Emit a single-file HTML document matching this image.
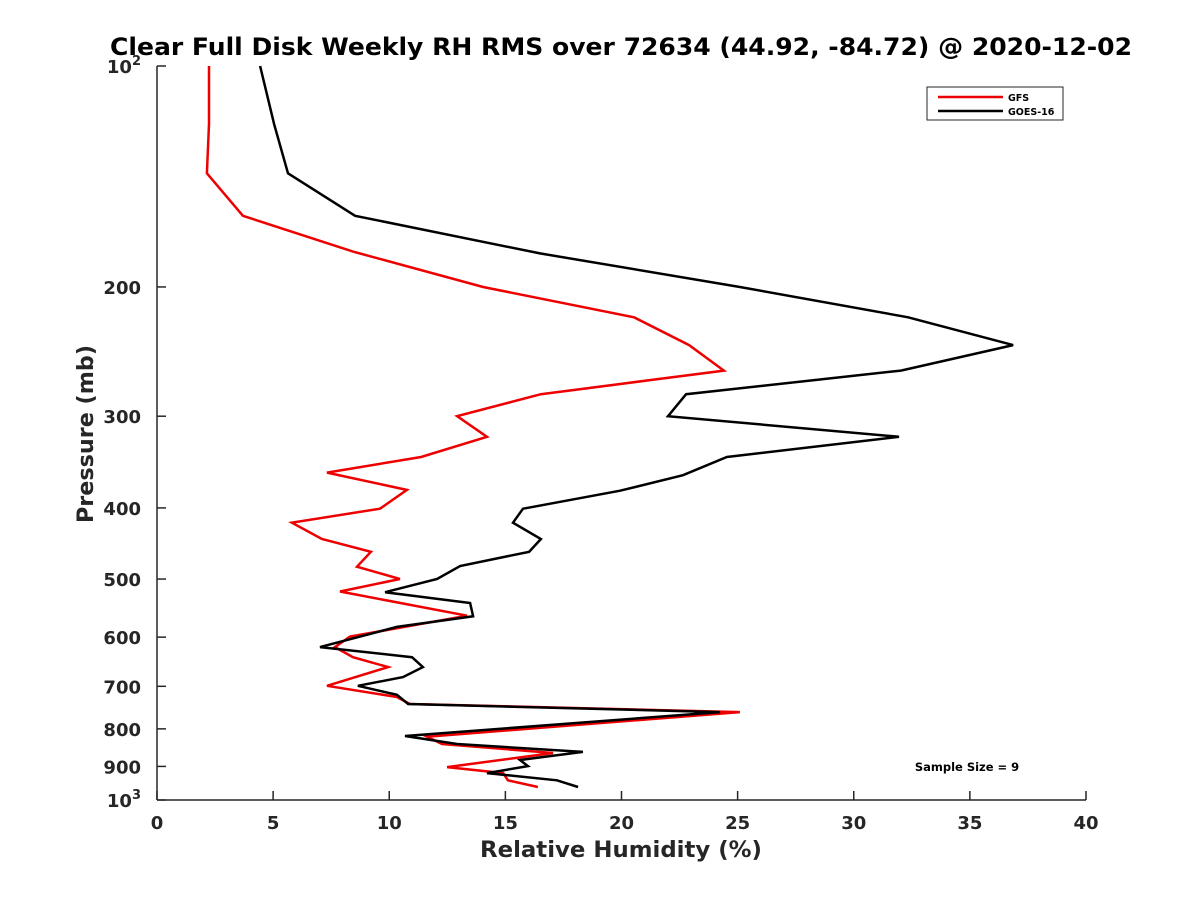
<!DOCTYPE html>
<html><head><meta charset="utf-8"><style>
body{margin:0;background:#fff;}
svg{display:block;font-family:"DejaVu Sans","Liberation Sans",sans-serif;}
</style></head><body>
<svg id="chart" width="1200" height="900">
<text x="621" y="55" text-anchor="middle" font-size="24" font-weight="bold" textLength="1022" lengthAdjust="spacingAndGlyphs">Clear Full Disk Weekly RH RMS over 72634 (44.92, -84.72) @ 2020-12-02</text>
<text x="621" y="857" text-anchor="middle" font-size="22" font-weight="bold" fill="#262626" textLength="282" lengthAdjust="spacingAndGlyphs">Relative Humidity (%)</text>
<text transform="translate(93,434) rotate(-90)" text-anchor="middle" font-size="22" font-weight="bold" fill="#262626" textLength="178" lengthAdjust="spacingAndGlyphs">Pressure (mb)</text>
<g id="axes"></g>
<g id="series"></g>
<g>
<rect x="927" y="87" width="136" height="33" fill="#fff" stroke="#262626" stroke-width="1"/>
<line x1="938" y1="97" x2="1003" y2="97" stroke="#e00" stroke-width="2.5"/>
<text x="1008" y="101" font-size="9.5" font-weight="bold">GFS</text>
<line x1="938" y1="111" x2="1003" y2="111" stroke="#000" stroke-width="2.5"/>
<text x="1008" y="115" font-size="9.5" font-weight="bold">GOES-16</text>
</g>
<text x="967" y="771" text-anchor="middle" font-size="11.5" font-weight="bold">Sample Size = 9</text>
</svg>
<script>
const xTicks=[0,5,10,15,20,25,30,35,40];
const yTicks=[100,200,300,400,500,600,700,800,900,1000];
const yTickLabels=["10|2","200","300","400","500","600","700","800","900","10|3"];
const gfsPressure=[100,120,140,160,179,200,220,240,260,280,300,320,341,358,378,401,419,441,459,481,500,520,561,599,619,639,659,699,724,740,759,820,839,863,902,919,940,960];
const gfsRH=[2.24,2.24,2.15,3.7,8.44,14.04,20.54,22.91,24.41,16.53,12.92,14.21,11.37,7.32,10.76,9.6,5.81,7.1,9.21,8.61,10.46,7.88,13.35,8.31,7.66,8.44,9.95,7.32,10.33,10.89,25.1,11.63,12.27,17.05,12.49,14.9,15.11,16.4];
const goesPressure=[100,120,140,160,180,200,220,240,260,280,300,320,341,361,379,401,419,441,459,480,500,521,539,562,581,619,639,659,680,699,719,740,759,818,839,860,882,899,919,940,960];
const goesRH=[4.44,5.04,5.64,8.53,16.49,25.1,32.34,36.86,32.03,22.78,22.0,31.95,24.54,22.65,19.94,15.76,15.33,16.53,16.02,13.05,12.06,9.82,13.48,13.61,10.33,7.02,10.98,11.45,10.59,8.65,10.33,10.81,24.24,10.68,12.92,18.34,15.63,15.97,14.21,17.22,18.13];

const L=157,R=1086,T=66,B=800;
const xs=v=>L+(v-0)/(40-0)*(R-L);
const ys=p=>T+Math.log10(p/100)*(B-T);
const NS="http://www.w3.org/2000/svg";
function mk(tag,attrs,parent){const e=document.createElementNS(NS,tag);for(const k in attrs)e.setAttribute(k,attrs[k]);parent.appendChild(e);return e;}
const ax=document.getElementById('axes');
let a=mk('line',{x1:L,y1:B,x2:R,y2:B,stroke:'#262626','stroke-width':1.5},ax);


a=mk('line',{x1:L,y1:T,x2:L,y2:B,stroke:'#262626','stroke-width':1.5},ax);


xTicks.forEach(v=>{
  const x=xs(v);
  const t=mk('line',{x1:x,y1:B,x2:x,y2:B-9,stroke:'#262626','stroke-width':1.5},ax);
  
  
  const l=mk('text',{x:x,y:B+29,'text-anchor':'middle','font-size':18,'font-weight':'bold',fill:'#262626'},ax);
  l.textContent=String(v);
  
  
});
yTicks.forEach((p,i)=>{
  const y=ys(p);
  const t=mk('line',{x1:L,y1:y,x2:L+9,y2:y,stroke:'#262626','stroke-width':1.5},ax);
  
  
  const parts=yTickLabels[i].split('|');
  const l=mk('text',{x:L-16,y:y+7,'text-anchor':'end','font-size':18,'font-weight':'bold',fill:'#262626'},ax);
  if(parts.length>1){
    const b=mk('tspan',{},l);b.textContent=parts[0];
    const s=mk('tspan',{'font-size':13,dy:-8},l);s.textContent=parts[1];
  } else l.textContent=parts[0];
  
  
});
const sg=document.getElementById('series');
function drawLine(P,V,color,name){
  const pts=P.map((p,i)=>xs(V[i]).toFixed(1)+','+ys(p).toFixed(1)).join(' ');
  const pl=mk('polyline',{points:pts,fill:'none',stroke:color,'stroke-width':2.5,'stroke-linejoin':'miter'},sg);
  
  
}
drawLine(gfsPressure,gfsRH,'#e00','gfs-line');
drawLine(goesPressure,goesRH,'#000','goes16-line');
</script>
</body></html>
